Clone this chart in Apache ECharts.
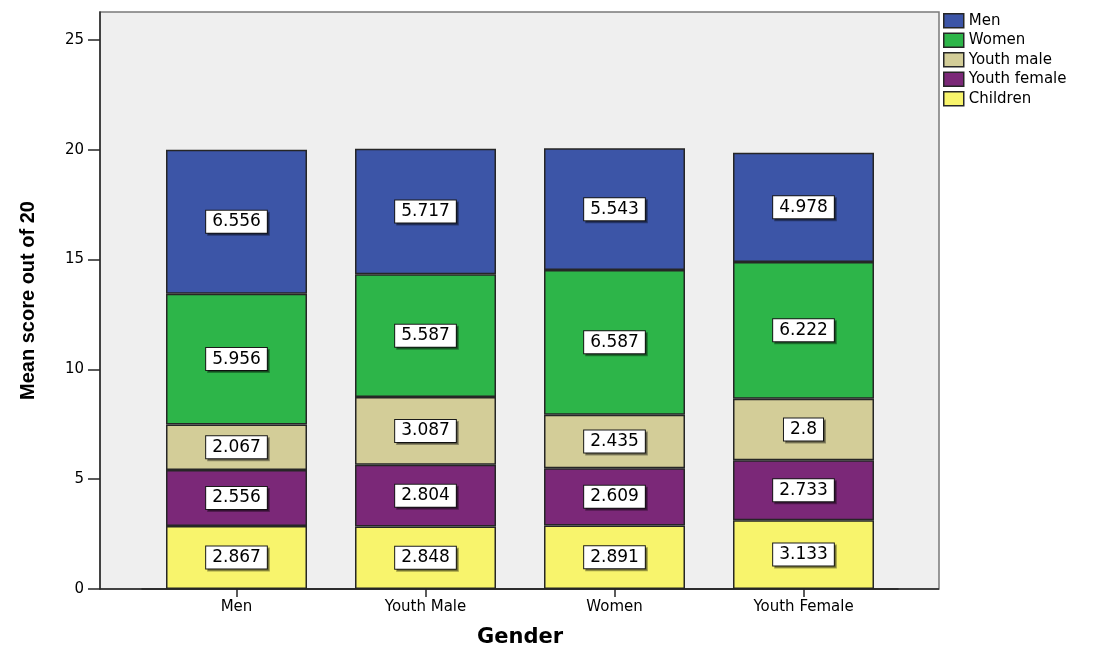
<!DOCTYPE html>
<html>
<head>
<meta charset="utf-8">
<title>Mean score out of 20 by Gender</title>
<script src="https://cdn.jsdelivr.net/npm/echarts@6/dist/echarts.min.js"></script>
<style>
  html, body { margin: 0; padding: 0; background: #ffffff; }
  #chart { width: 1102px; height: 647px; }
</style>
</head>
<body>
<div id="chart"></div>
<script>
// Groups along the x axis
const categories = ['Men', 'Youth Male', 'Women', 'Youth Female'];

// Mean score contributed by each rater group (stacked bottom to top)
const children    = [2.867, 2.848, 2.891, 3.133];
const youthFemale = [2.556, 2.804, 2.609, 2.733];
const youthMale   = [2.067, 3.087, 2.435, 2.8];
const women       = [5.956, 5.587, 6.587, 6.222];
const men         = [6.556, 5.717, 5.543, 4.978];

// Y axis tick values
const yTicks = [0, 5, 10, 15, 20, 25];

const FONT = '"DejaVu Sans", "Liberation Sans", Arial, sans-serif';

const colors = {
  'Children': '#f8f46c',
  'Youth female': '#7b2878',
  'Youth male': '#d3cd98',
  'Women': '#2db549',
  'Men': '#3c55a7'
};

function stackSeries(name, values) {
  return {
    name: name,
    type: 'bar',
    stack: 'total',
    data: values,
    barWidth: 141,
    itemStyle: { color: colors[name], borderColor: '#262626', borderWidth: 1.5 },
    label: {
      show: true,
      position: 'inside',
      color: '#000',
      fontFamily: FONT,
      fontSize: 17,
      backgroundColor: '#ffffff',
      borderColor: '#1a1a1a',
      borderWidth: 1,
      padding: [3, 6, 2, 6],
      shadowColor: 'rgba(0,0,0,0.35)',
      shadowOffsetX: 2,
      shadowOffsetY: 2,
      shadowBlur: 0
    },
    emphasis: { disabled: true }
  };
}

const chart = echarts.init(document.getElementById('chart'), null, { renderer: 'canvas' });

chart.setOption({
  animation: false,
  backgroundColor: '#ffffff',
  textStyle: { fontFamily: FONT },
  graphic: [
    {
      type: 'rect',
      z: -10,
      silent: true,
      shape: { x: 100, y: 12, width: 839, height: 577 },
      style: { fill: '#efefef', stroke: '#7a7a7a', lineWidth: 1.5 }
    },
    {
      type: 'line',
      z: 10,
      silent: true,
      shape: { x1: 100, y1: 589, x2: 939, y2: 589 },
      style: { stroke: '#262626', lineWidth: 1.5 }
    }
  ],
  grid: { left: 142, right: 204, top: 12, bottom: 58, containLabel: false, outerBoundsMode: 'none' },
  legend: {
    orient: 'vertical',
    left: 943,
    top: 13,
    padding: 0,
    itemWidth: 20,
    itemHeight: 14,
    itemGap: 4,
    icon: 'rect',
    selectedMode: false,
    data: ['Men', 'Women', 'Youth male', 'Youth female', 'Children'],
    itemStyle: { borderColor: '#262626', borderWidth: 1.5 },
    textStyle: { fontFamily: FONT, fontSize: 15, color: '#000', padding: [0, 0, 0, 0] }
  },
  xAxis: {
    type: 'category',
    data: categories,
    name: 'Gender',
    nameLocation: 'middle',
    nameGap: 38,
    nameTextStyle: { fontFamily: FONT, fontSize: 21, fontWeight: 'bold', color: '#000' },
    axisLine: { show: true, lineStyle: { color: '#262626', width: 1.5 } },
    axisTick: { show: true, alignWithLabel: true, length: 8, lineStyle: { color: '#262626', width: 1.5 } },
    axisLabel: { fontFamily: FONT, fontSize: 15, color: '#000', margin: 11 },
    splitLine: { show: false }
  },
  yAxis: {
    type: 'value',
    min: 0,
    max: 26.27,
    interval: 5,
    offset: 42,
    name: 'Mean score out of 20',
    nameLocation: 'middle',
    nameGap: 62,
    nameTextStyle: {
      fontFamily: '"Liberation Sans Narrow", "Liberation Sans", Arial, sans-serif',
      fontSize: 20, fontWeight: 'bold', color: '#000'
    },
    axisLine: { show: true, lineStyle: { color: '#262626', width: 1.5 } },
    axisTick: { show: true, length: 12, customValues: yTicks, lineStyle: { color: '#262626', width: 1.5 } },
    axisLabel: { fontFamily: FONT, fontSize: 15, color: '#000', margin: 16, customValues: yTicks },
    splitLine: { show: false }
  },
  series: [
    stackSeries('Children', children),
    stackSeries('Youth female', youthFemale),
    stackSeries('Youth male', youthMale),
    stackSeries('Women', women),
    stackSeries('Men', men)
  ]
});
</script>
</body>
</html>
